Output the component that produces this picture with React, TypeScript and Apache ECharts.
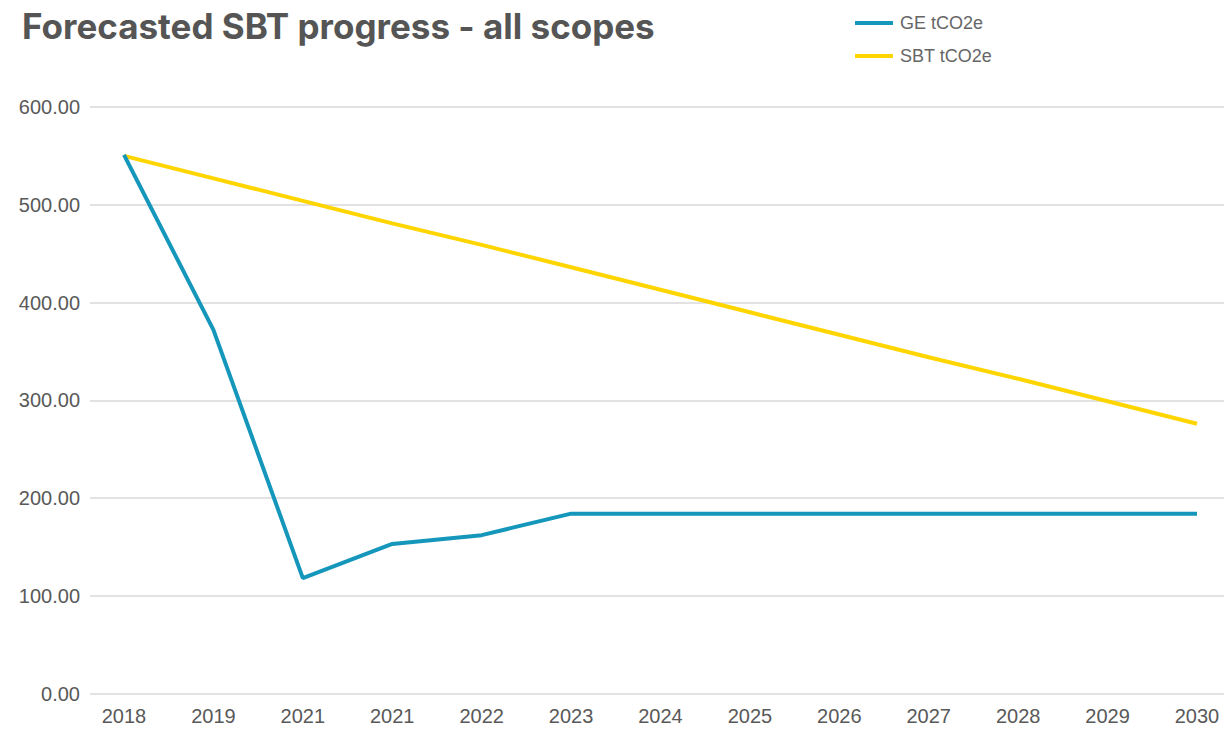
import React, { useEffect, useRef } from "react";
import * as echarts from "echarts";

const categories = ["2018", "2019", "2021", "2021", "2022", "2023", "2024", "2025", "2026", "2027", "2028", "2029", "2030"];
const geValues = [551, 372, 118, 153, 162, 184, 184, 184, 184, 184, 184, 184, 184];
const sbtValues = [550, 527, 504, 481, 459, 436, 413, 390, 367, 344, 322, 299, 276];
const yTicks = [0, 100, 200, 300, 400, 500, 600];

export default function App() {
  const ref = useRef<HTMLDivElement>(null);
  useEffect(() => {
    if (!ref.current) return;
    const chart = echarts.init(ref.current, null, { renderer: "svg" });
    const font = "'Liberation Sans', Arial, sans-serif";
    chart.setOption({
      animation: false,
      backgroundColor: "#ffffff",
      title: {
        text: "Forecasted SBT progress - all scopes",
        left: 17,
        top: 3,
        textStyle: { fontSize: 35, fontWeight: "bold", color: "#555555", fontFamily: "Inter, 'Noto Sans', sans-serif" },
      },
      legend: {
        orient: "vertical",
        left: 855,
        top: 14,
        padding: 0,
        itemGap: 15,
        itemWidth: 38,
        itemHeight: 4,
        icon: "rect",
        textStyle: { fontSize: 18, color: "#666666", fontFamily: font, padding: [0, 0, 0, 2] },
        data: ["GE tCO2e", "SBT tCO2e"],
      },
      grid: [
        { left: 90, right: 0, top: 107, bottom: 35.5 },
        { left: 124, right: 27, top: 107, bottom: 35.5 },
      ],
      xAxis: [
        { type: "value", gridIndex: 0, show: false, min: 0, max: 1 },
        {
          type: "category",
          gridIndex: 1,
          data: categories,
          boundaryGap: false,
          axisLine: { show: false },
          axisTick: { show: false },
          axisLabel: { fontSize: 20, color: "#595959", fontFamily: font, margin: 12, interval: 0 },
        },
      ],
      yAxis: [
        {
          type: "value",
          gridIndex: 0,
          min: yTicks[0],
          max: yTicks[yTicks.length - 1],
          interval: 100,
          axisLine: { show: false },
          axisTick: { show: false },
          axisLabel: {
            fontSize: 20,
            color: "#595959",
            fontFamily: font,
            margin: 10,
            formatter: (v: number) => v.toFixed(2),
          },
          splitLine: { lineStyle: { color: "#d9d9d9", width: 1.5 } },
        },
        { type: "value", gridIndex: 1, min: 0, max: 600, interval: 100, show: false, splitLine: { show: false } },
      ],
      series: [
        {
          name: "GE tCO2e",
          type: "line",
          xAxisIndex: 1,
          yAxisIndex: 1,
          data: geValues,
          showSymbol: false,
          symbol: "none",
          color: "#1597BB",
          lineStyle: { width: 4, color: "#1597BB" },
          z: 3,
        },
        {
          name: "SBT tCO2e",
          type: "line",
          xAxisIndex: 1,
          yAxisIndex: 1,
          data: sbtValues,
          showSymbol: false,
          symbol: "none",
          color: "#FFD500",
          lineStyle: { width: 4, color: "#FFD500" },
          z: 2,
        },
      ],
    });
    return () => chart.dispose();
  }, []);
  return <div ref={ref} style={{ width: 1224, height: 729, position: "absolute", left: 0, top: 0 }} />;
}
